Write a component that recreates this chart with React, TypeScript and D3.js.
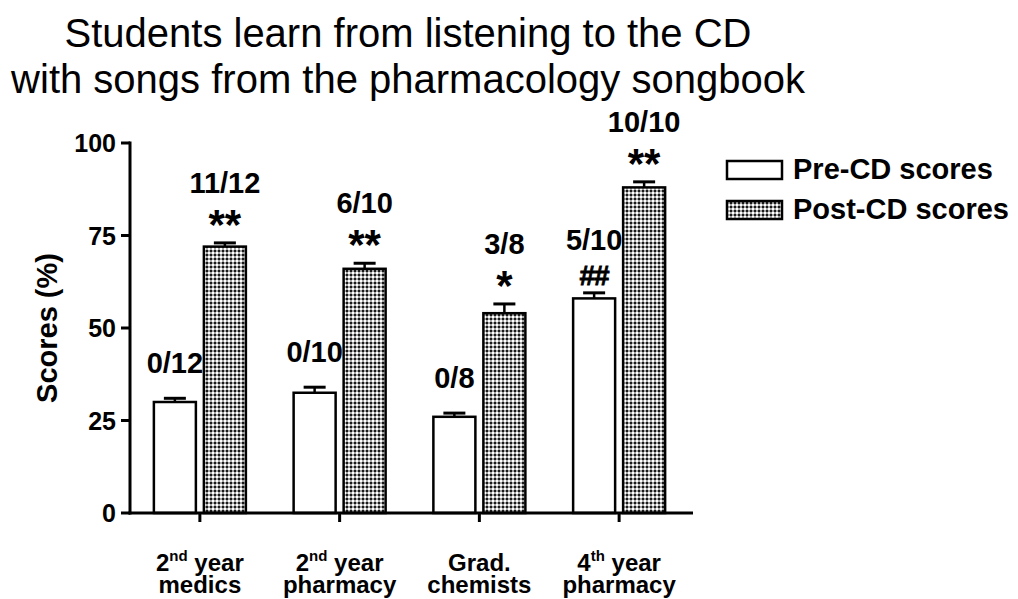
import React, { useEffect, useRef } from "react";
import * as d3 from "d3";

const catNum = ["2", "2", "", "4"];
const catSup = ["nd", "nd", "", "th"];
const catWord = [" year", " year", "Grad.", " year"];
const catLine2 = ["medics", "pharmacy", "chemists", "pharmacy"];
const categories = ["medics2", "pharmacy2", "chemists", "pharmacy4"];

const preScores = [30, 32.5, 26, 58];
const preErr = [1, 1.5, 1, 1.5];
const postScores = [72, 66, 54, 88];
const postErr = [1, 1.5, 2.5, 1.5];

const preFractions = ["0/12", "0/10", "0/8", "5/10"];
const postFractions = ["11/12", "6/10", "3/8", "10/10"];
const preSig = ["", "", "", "##"];
const postSig = ["**", "**", "*", "**"];

const yTicks = [0, 25, 50, 75, 100];
const seriesNames = ["Pre-CD scores", "Post-CD scores"];
const titleLines = [
  "Students learn from listening to the CD",
  "with songs from the pharmacology songbook",
];

const W = 1018;
const H = 599;
const FONT = "'Liberation Sans', Arial, Helvetica, sans-serif";

export default function App() {
  const ref = useRef<SVGSVGElement>(null);

  useEffect(() => {
    document.body.style.margin = "0";
    const svg = d3.select(ref.current);
    svg.selectAll("*").remove();

    const defs = svg.append("defs");
    const pat = defs
      .append("pattern")
      .attr("id", "dots")
      .attr("patternUnits", "userSpaceOnUse")
      .attr("width", 4)
      .attr("height", 4);
    pat.append("rect").attr("width", 4).attr("height", 4).attr("fill", "#a6a6a6");
    pat.append("rect").attr("x", 0).attr("y", 0).attr("width", 2).attr("height", 2).attr("fill", "#ffffff");
    pat.append("rect").attr("x", 2).attr("y", 2).attr("width", 2).attr("height", 2).attr("fill", "#1a1a1a");

    const x = d3.scaleBand<string>().domain(categories).range([130, 689]).padding(0);
    const sub = d3.scaleBand<string>().domain(["pre", "post"]).range([-46, 46]).paddingInner(0.16).paddingOuter(0);
    const y = d3.scaleLinear().domain([0, 100]).range([513, 143]);

    // Title
    const title = svg
      .append("text")
      .attr("font-family", FONT)
      .attr("font-size", 40)
      .attr("fill", "#000")
      .attr("text-anchor", "middle");
    titleLines.forEach((t, i) => {
      title.append("tspan").attr("x", 408).attr("y", 47 + i * 45.5).text(t);
    });

    const series = [
      { key: "pre", vals: preScores, errs: preErr, fill: "#ffffff", frac: preFractions, sig: preSig },
      { key: "post", vals: postScores, errs: postErr, fill: "url(#dots)", frac: postFractions, sig: postSig },
    ];

    const g = svg.append("g");
    series.forEach((s) => {
      categories.forEach((c, i) => {
        const cx = (x(c) as number) + x.bandwidth() / 2;
        const bx = cx + (sub(s.key) as number);
        const bw = sub.bandwidth();
        const top = y(s.vals[i]);
        g.append("rect")
          .attr("x", bx)
          .attr("y", top)
          .attr("width", bw)
          .attr("height", y(0) - top)
          .attr("fill", s.fill)
          .attr("stroke", "#000")
          .attr("stroke-width", 2.5);
        const mid = bx + bw / 2;
        const eTop = y(s.vals[i] + s.errs[i]);
        g.append("line")
          .attr("x1", mid).attr("x2", mid)
          .attr("y1", top).attr("y2", eTop)
          .attr("stroke", "#000").attr("stroke-width", 2.5);
        g.append("line")
          .attr("x1", mid - 11).attr("x2", mid + 11)
          .attr("y1", eTop).attr("y2", eTop)
          .attr("stroke", "#000").attr("stroke-width", 3);

        const sig = s.sig[i];
        if (sig) {
          const isStar = sig.includes("*");
          g.append("text")
            .attr("x", mid)
            .attr("y", isStar ? eTop - 4 : eTop - 8)
            .attr("text-anchor", "middle")
            .attr("font-family", FONT)
            .attr("font-weight", "bold")
            .attr("font-size", isStar ? 42 : 28)
            .attr("letter-spacing", isStar ? 0 : -1)
            .attr("stroke", isStar ? "none" : "#000")
            .attr("stroke-width", isStar ? 0 : 0.8)
            .text(sig);
          g.append("text")
            .attr("x", mid)
            .attr("y", isStar ? eTop - 50 : eTop - 43)
            .attr("text-anchor", "middle")
            .attr("font-family", FONT)
            .attr("font-weight", "bold")
            .attr("font-size", 29)
            .text(s.frac[i]);
        } else {
          g.append("text")
            .attr("x", mid)
            .attr("y", eTop - 25)
            .attr("text-anchor", "middle")
            .attr("font-family", FONT)
            .attr("font-weight", "bold")
            .attr("font-size", 29)
            .text(s.frac[i]);
        }
      });
    });

    // Axes
    const ax = svg.append("g").attr("stroke", "#000");
    ax.append("line")
      .attr("x1", 130).attr("x2", 130)
      .attr("y1", y(100) - 1.5).attr("y2", y(0) + 1.5)
      .attr("stroke-width", 3);
    ax.append("line")
      .attr("x1", 128.5).attr("x2", 693)
      .attr("y1", y(0)).attr("y2", y(0))
      .attr("stroke-width", 3);
    yTicks.forEach((t) => {
      ax.append("line")
        .attr("x1", 121).attr("x2", 130)
        .attr("y1", y(t)).attr("y2", y(t))
        .attr("stroke-width", 3);
      svg.append("text")
        .attr("x", 116)
        .attr("y", y(t))
        .attr("dy", "0.36em")
        .attr("text-anchor", "end")
        .attr("font-family", FONT)
        .attr("font-weight", "bold")
        .attr("font-size", 25)
        .text(String(t));
    });
    categories.forEach((c, i) => {
      const cx = (x(c) as number) + x.bandwidth() / 2;
      ax.append("line")
        .attr("x1", cx).attr("x2", cx)
        .attr("y1", y(0)).attr("y2", y(0) + 9)
        .attr("stroke-width", 3);
      const t1 = svg.append("text")
        .attr("text-anchor", "middle")
        .attr("font-family", FONT)
        .attr("font-weight", "bold")
        .attr("font-size", 24);
      const l1 = t1.append("tspan").attr("x", cx).attr("y", 571);
      if (catNum[i]) {
        l1.append("tspan").text(catNum[i]);
        l1.append("tspan").attr("font-size", 15).attr("dy", -10).text(catSup[i]);
        l1.append("tspan").attr("dy", 10).text(catWord[i]);
      } else {
        l1.text(catWord[i]);
      }
      t1.append("tspan").attr("x", cx).attr("y", 593).text(catLine2[i]);
    });

    // Y label
    svg.append("text")
      .attr("transform", `translate(57, ${y(50)}) rotate(-90)`)
      .attr("text-anchor", "middle")
      .attr("font-family", FONT)
      .attr("font-weight", "bold")
      .attr("font-size", 29)
      .text("Scores (%)");

    // Legend
    const lg = svg.append("g");
    seriesNames.forEach((n, i) => {
      const ly = 161 + i * 40;
      lg.append("rect")
        .attr("x", 727).attr("y", ly)
        .attr("width", 55).attr("height", 18)
        .attr("fill", i === 0 ? "#fff" : "url(#dots)")
        .attr("stroke", "#000").attr("stroke-width", 2.5);
      lg.append("text")
        .attr("x", 793).attr("y", ly + 18)
        .attr("font-family", FONT)
        .attr("font-weight", "bold")
        .attr("font-size", 29)
        .text(n);
    });
  }, []);

  return (
    <svg
      ref={ref}
      width={W}
      height={H}
      viewBox={`0 0 ${W} ${H}`}
      style={{ display: "block", position: "absolute", left: 0, top: 0, background: "#fff" }}
    />
  );
}
